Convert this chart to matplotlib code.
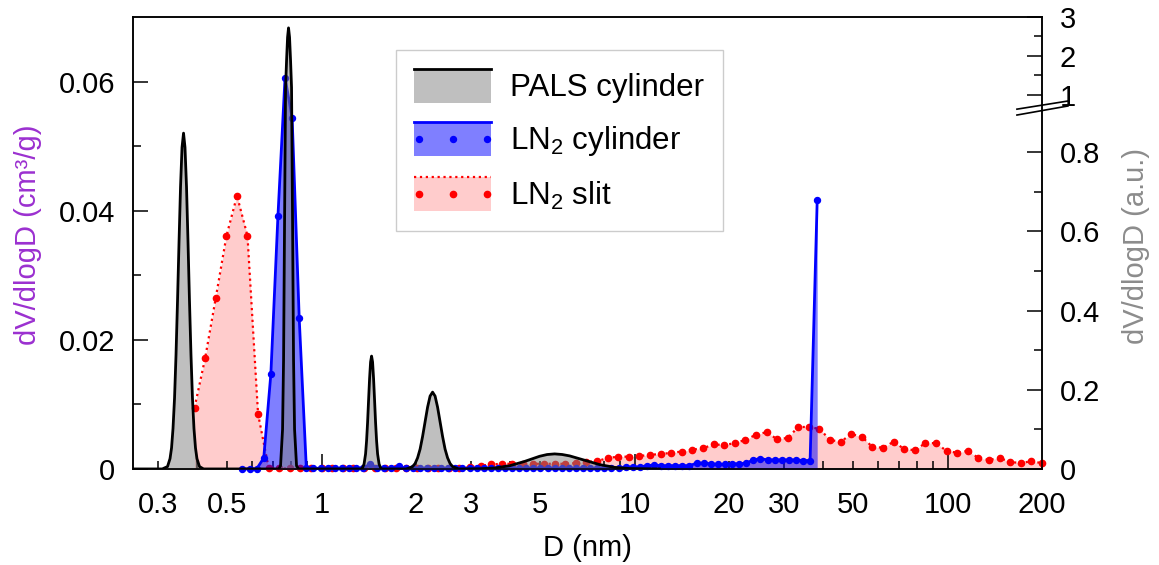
import numpy as np
import matplotlib

matplotlib.use("Agg")
import matplotlib.pyplot as plt
from matplotlib.legend_handler import HandlerBase
from matplotlib.lines import Line2D
from matplotlib.patches import Rectangle

plt.rcParams["font.family"] = ["Liberation Sans", "DejaVu Sans"]
plt.rcParams["mathtext.fontset"] = "custom"
plt.rcParams["mathtext.rm"] = "Liberation Sans"

# PALS cylinder (right axis, a.u.)
pals_d = [0.25, 0.31,
          0.3221, 0.3281, 0.3318, 0.3354, 0.3392, 0.3429, 0.3467, 0.3506, 0.3545, 0.3584,
          0.3624, 0.3663, 0.3704, 0.3745, 0.3786, 0.3828, 0.3870, 0.3913, 0.3957, 0.4000,
          0.4075, 0.42,
          0.73, 0.7396, 0.7507, 0.7563, 0.7619, 0.7675, 0.7732, 0.7789, 0.7844, 0.7903,
          0.7962, 0.8020, 0.8080, 0.8139, 0.8200, 0.8321, 0.845,
          1.34, 1.3522, 1.3672, 1.3824, 1.3926, 1.4029, 1.4132, 1.4237, 1.4342, 1.4448,
          1.4555, 1.4662, 1.4771, 1.4880, 1.4990, 1.5101, 1.5268, 1.5438, 1.56,
          1.86, 1.8830, 1.9534, 1.9897, 2.0266, 2.0642, 2.1025, 2.1415, 2.1813, 2.2218,
          2.2629, 2.3049, 2.3477, 2.3912, 2.4356, 2.4808, 2.5268, 2.5737, 2.6214, 2.7196,
          2.75,
          3.198, 3.571, 3.987, 4.453, 4.972, 5.254, 5.552, 5.867, 6.199, 6.922, 7.729,
          8.63, 9.64, 12.0]
pals_v = [0.0, 0.0,
          0.006, 0.026, 0.053, 0.102, 0.179, 0.288, 0.424, 0.574, 0.713, 0.812,
          0.848, 0.812, 0.713, 0.574, 0.424, 0.288, 0.179, 0.102, 0.053, 0.026,
          0.006, 0.0,
          0.0, 0.0076, 0.100, 0.275, 0.628, 1.19, 1.885, 2.48, 2.72, 2.48,
          1.885, 1.19, 0.628, 0.275, 0.100, 0.0076, 0.0,
          0.0, 0.003, 0.0125, 0.038, 0.071, 0.117, 0.173, 0.228, 0.270, 0.285,
          0.270, 0.228, 0.173, 0.117, 0.071, 0.038, 0.0125, 0.003, 0.0,
          0.0, 0.001, 0.006, 0.0137, 0.028, 0.050, 0.082, 0.119, 0.156, 0.184,
          0.194, 0.184, 0.156, 0.119, 0.082, 0.050, 0.028, 0.0137, 0.006, 0.001,
          0.0,
          0.0005, 0.0024, 0.008, 0.019, 0.032, 0.0364, 0.038, 0.0365, 0.033, 0.022, 0.011,
          0.004, 0.001, 0.0]

# LN2 cylinder (left axis, cm3/g)
cyl_d = [0.559, 0.589, 0.6205, 0.6537, 0.6888, 0.7257, 0.7645, 0.8055, 0.8486, 0.8941,
         0.942, 0.9925, 1.0457, 1.1017, 1.1607, 1.2229, 1.2884, 1.3574, 1.4301, 1.5068,
         1.5875, 1.6725, 1.7621, 1.8565, 1.956, 2.0608, 2.1712, 2.2875, 2.41, 2.5391,
         2.6751, 2.8184, 2.9694, 3.1285, 3.2961, 3.4727, 3.6587, 3.8547, 4.0612, 4.2787,
         4.5079, 4.7494, 5.0038, 5.2719, 5.5543, 5.8518, 6.1653, 6.4956, 6.8436, 7.2102,
         7.5964, 8.0033, 8.4321, 8.8838, 9.3597, 9.8611, 10.389, 10.946, 11.532, 12.15,
         12.801, 13.487, 14.209, 14.97, 15.772, 16.617, 17.507, 18.445, 19.433, 20.474,
         21.571, 22.727, 23.944, 25.227, 26.578, 28.002, 29.502, 31.083, 32.748, 34.502,
         36.35, 38.297]
cyl_v = [0.0, 0.0, 0.0, 0.0017, 0.0147, 0.0392, 0.0606, 0.0544, 0.0233, 0.0002,
         0.0001, 0.0001, 0.0001, 0.0001, 0.0001, 0.0001, 0.0001, 0.0002, 0.0007, 0.0002,
         0.0001, 0.0001, 0.0004, 0.0001, 0.0001, 0.0001, 0.0001, 0.0001, 0.0001, 0.0001,
         0.0001, 0.0001, 0.0001, 0.0001, 0.0001, 0.0001, 0.0001, 0.0001, 0.0001, 0.0001,
         0.0001, 0.0001, 0.0001, 0.0001, 0.0001, 0.0001, 0.0001, 0.0001, 0.0001, 0.0001,
         0.0001, 0.0001, 0.0001, 0.0001, 0.0003, 0.0003, 0.0003, 0.0005, 0.0006, 0.0005,
         0.0005, 0.0005, 0.0005, 0.0005, 0.0009, 0.0009, 0.0008, 0.0007, 0.0007, 0.0008,
         0.0008, 0.0009, 0.0014, 0.0016, 0.0014, 0.0014, 0.0014, 0.0014, 0.0014, 0.0013,
         0.0013, 0.0416]

# LN2 slit (left axis, cm3/g)
slit_d = [0.393, 0.425, 0.459, 0.497, 0.537, 0.580, 0.627, 0.678, 0.733, 0.792,
          0.856, 0.926, 1.001, 1.082, 1.170, 1.264, 1.367, 1.477, 1.597, 1.726,
          1.866, 2.017, 2.181, 2.358, 2.549, 2.755, 2.979, 3.220, 3.480, 3.763,
          4.067, 4.397, 4.753, 5.138, 5.554, 6.004, 6.491, 7.017, 7.585, 8.200,
          8.864, 9.581, 10.36, 11.20, 12.10, 13.09, 14.15, 15.29, 16.53, 17.87,
          19.32, 20.88, 22.58, 24.41, 26.38, 28.52, 30.83, 33.33, 36.03, 38.95,
          42.10, 45.50, 49.19, 53.18, 57.48, 62.14, 67.18, 72.61, 78.49, 84.86,
          91.73, 99.15, 107.2, 115.9, 125.3, 135.4, 146.4, 158.2, 171.1, 184.9,
          199.9]
slit_v = [0.0095, 0.0172, 0.0264, 0.0361, 0.0423, 0.0361, 0.0085, 0.0001, 0.0001, 0.0001,
          0.0001, 0.0001, 0.0001, 0.0001, 0.0001, 0.0001, 0.0001, 0.0001, 0.0001, 0.0001,
          0.0001, 0.0001, 0.0001, 0.0001, 0.0001, 0.0001, 0.0003, 0.0005, 0.0007, 0.0008,
          0.0008, 0.0008, 0.0008, 0.0008, 0.0008, 0.0008, 0.0009, 0.0011, 0.0012, 0.0017,
          0.0019, 0.0019, 0.0020, 0.0022, 0.0023, 0.0025, 0.0027, 0.0030, 0.0032, 0.0038,
          0.0037, 0.0040, 0.0045, 0.0053, 0.0057, 0.0046, 0.0048, 0.0065, 0.0065, 0.0062,
          0.0045, 0.0042, 0.0054, 0.0050, 0.0034, 0.0033, 0.0042, 0.0031, 0.0029, 0.0040,
          0.0040, 0.0028, 0.0025, 0.0028, 0.0017, 0.0014, 0.0017, 0.0011, 0.0009, 0.0012,
          0.0009]

x_major = [1, 10, 100]
x_minor = [0.3, 0.4, 0.5, 0.6, 0.7, 0.8, 0.9, 2, 3, 4, 5, 6, 7, 8, 9,
           20, 30, 40, 50, 60, 70, 80, 90, 200]
x_minor_labels = {0.3: "0.3", 0.5: "0.5", 2: "2", 3: "3", 5: "5",
                  20: "20", 30: "30", 50: "50", 200: "200"}
left_ticks = [0, 0.02, 0.04, 0.06]
left_labels = ["0", "0.02", "0.04", "0.06"]
right_ticks = [0, 0.2, 0.4, 0.6, 0.8, 1, 2, 3]
right_labels = ["0", "0.2", "0.4", "0.6", "0.8", "1", "2", "3"]
right_minor = [0.1, 0.3, 0.5, 0.7, 1.5, 2.5]

# broken right axis: linear 0..0.91, compressed 1..3
BRK_V = [-1.0, 0.0, 0.91, 1.0, 3.0, 10.0]
BRK_H = [-1.0, 0.0, 0.91, 0.9444, 1.1414, 1.8308]


def fwd(v):
    return np.interp(v, BRK_V, BRK_H)


def inv(h):
    return np.interp(h, BRK_H, BRK_V)


class AreaHandler(HandlerBase):
    def __init__(self, face, **kw):
        super().__init__(**kw)
        self.face = face

    def create_artists(self, legend, orig, xdescent, ydescent, width, height, fontsize, trans):
        x0, y0 = -xdescent, -ydescent
        rect = Rectangle((x0, y0), width, height, facecolor=self.face,
                         edgecolor="none", transform=trans)
        top = Line2D([x0, x0 + width], [y0 + height] * 2, color=orig.get_color(),
                     ls=orig.get_linestyle(), lw=orig.get_linewidth(), transform=trans)
        arts = [rect, top]
        if orig.get_marker() not in (None, "None", "", "none"):
            dots = Line2D([x0 + 3, x0 + width / 2, x0 + width - 3], [y0 + height / 2] * 3,
                          ls="none", marker="o", ms=orig.get_markersize(),
                          color=orig.get_color(), transform=trans)
            arts.append(dots)
        return arts


fig = plt.figure(figsize=(11.59, 5.65), dpi=100)
ax = fig.add_axes([0.1148, 0.170, 0.7842, 0.800])
ax2 = ax.twinx()

ax.fill_between(slit_d, 0, slit_v, color="#ffcccc", lw=0, zorder=1)
slit_line, = ax.plot(slit_d, slit_v, color="red", ls=":", lw=1.6, marker="o", ms=4.5,
                     zorder=3, clip_on=False)
ax.fill_between(cyl_d, 0, cyl_v, color=(0, 0, 1, 0.5), lw=0, zorder=3.2)
cyl_line, = ax.plot(cyl_d, cyl_v, color="blue", lw=2, marker="o", ms=4.3,
                    zorder=3.4, clip_on=False)

ax2.set_yscale("function", functions=(fwd, inv))
ax2.fill_between(pals_d, 0, pals_v, color=(0.5, 0.5, 0.5, 0.5), lw=0)
pals_line, = ax2.plot(pals_d, pals_v, color="black", lw=2)

ax.set_xscale("log")
ax.set_xlim(0.25, 200)
ax.set_ylim(0, 0.07)
ax2.set_ylim(0, 3)

ax.set_xticks(x_major, ["1", "10", "100"])
ax.set_xticks(x_minor, [x_minor_labels.get(v, "") for v in x_minor], minor=True)
ax.set_yticks(left_ticks, left_labels)
ax.set_yticks([0.01, 0.03, 0.05], minor=True)
ax2.set_yticks(right_ticks, right_labels)
ax2.set_yticks(right_minor, minor=True)

for a in (ax, ax2):
    for s in a.spines.values():
        s.set_linewidth(1.1)
ax.tick_params(axis="x", which="both", direction="in", top=False, labelsize=21, pad=16, width=1.1)
ax.tick_params(axis="y", which="both", direction="in", right=False, labelsize=21, pad=13, width=1.1)
ax2.tick_params(axis="y", which="both", direction="in", left=False, labelsize=21, pad=13, width=1.1)
for a in (ax, ax2):
    a.tick_params(which="major", length=10.8)
    a.tick_params(which="minor", length=5.5)

ax.set_xlabel("D (nm)", fontsize=21)
ax.xaxis.set_label_coords(0.5, -0.145)
ax.set_ylabel("dV/dlogD (cm³/g)", fontsize=21, color="#9b30d0")
ax.yaxis.set_label_coords(-0.100, 0.518)
ax2.set_ylabel("dV/dlogD (a.u.)", fontsize=21, color="#8c8c8c", rotation=90)
ax2.yaxis.set_label_coords(1.088, 0.493)

# axis break marks on the right spine
ax2.plot([0.9725, 1.0286], [0.796, 0.814], transform=ax2.transAxes, color="black",
         lw=1.2, clip_on=False)
ax2.plot([0.9725, 1.0286], [0.783, 0.803], transform=ax2.transAxes, color="black",
         lw=1.2, clip_on=False)

leg = ax2.legend(
    [pals_line, cyl_line, slit_line],
    ["PALS cylinder", r"LN$_{\mathregular{2}}$ cylinder", r"LN$_{\mathregular{2}}$ slit"],
    handler_map={
        pals_line: AreaHandler((0.5, 0.5, 0.5, 0.5)),
        cyl_line: AreaHandler((0, 0, 1, 0.5)),
        slit_line: AreaHandler("#ffcccc"),
    },
    loc="upper left", bbox_to_anchor=(0.289, 0.927), borderaxespad=0,
    fontsize=22.5, frameon=True, fancybox=False, edgecolor="#cccccc", framealpha=1,
    handlelength=2.45, handleheight=1.3, handletextpad=0.6, labelspacing=0.6,
    borderpad=0.6,
)
leg.get_frame().set_linewidth(1.0)

fig.savefig("out.png", dpi=100)
